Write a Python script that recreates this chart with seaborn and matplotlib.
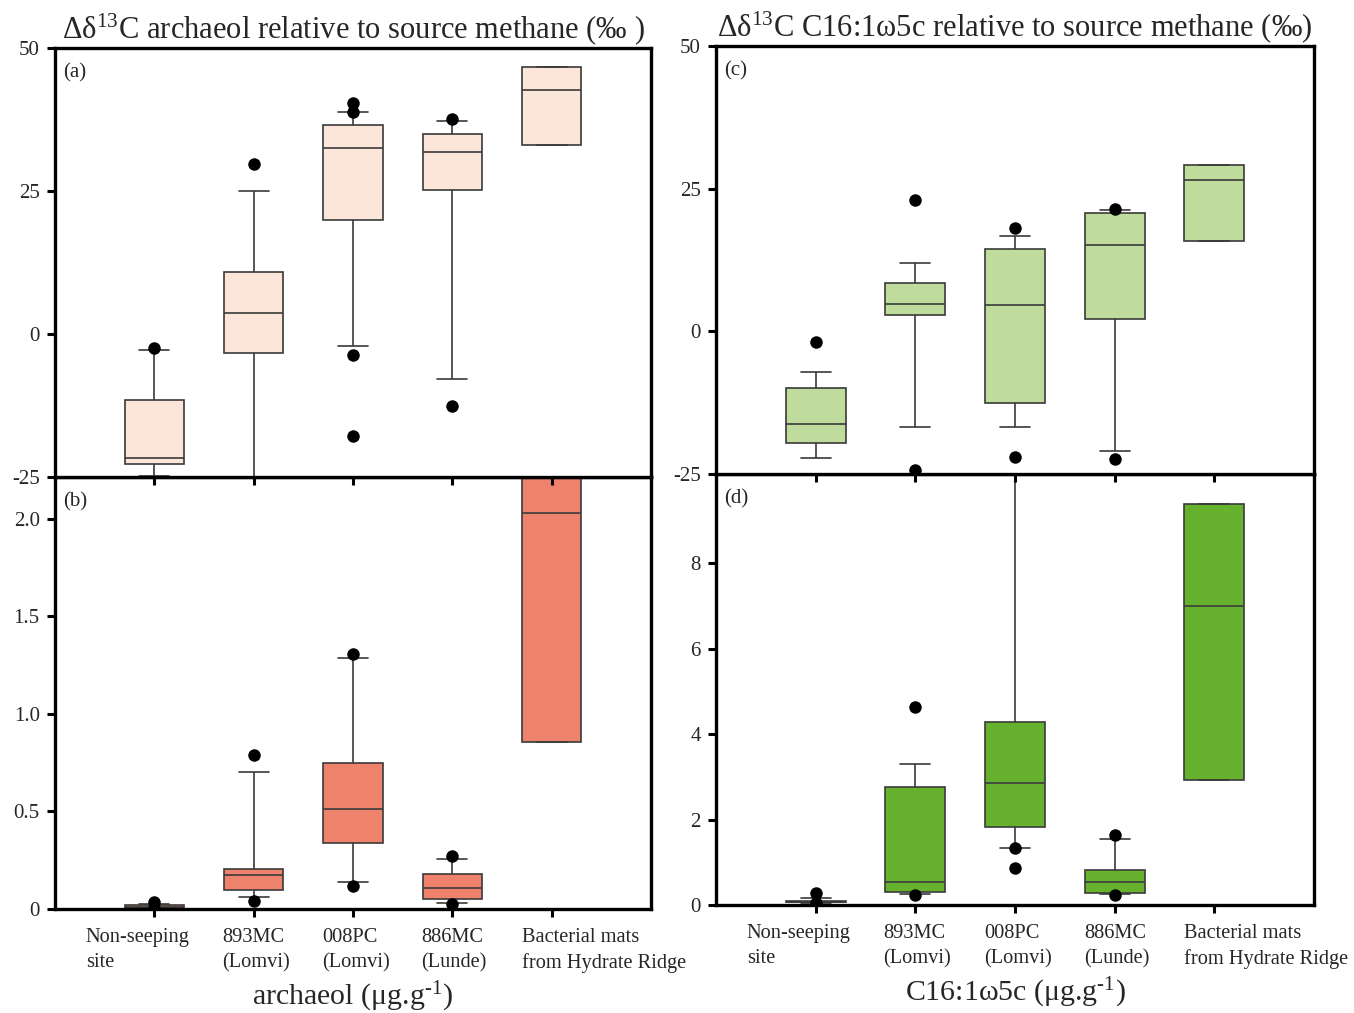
import numpy as np
import pandas as pd
import matplotlib
matplotlib.use("Agg")
import matplotlib.pyplot as plt
import seaborn as sns

# ---------------- data ----------------
categories = ["Non-seeping site", "893MC (Lomvi)", "008PC (Lomvi)", "886MC (Lunde)",
              "Bacterial mats from Hydrate Ridge"]
tick_texts = ["Non-seeping\nsite", "893MC\n(Lomvi)", "008PC\n(Lomvi)", "886MC\n(Lunde)",
              "Bacterial mats\nfrom Hydrate Ridge"]

# (a) d13C archaeol relative to source methane
a_lo = [-24.8, -35.0, -2.1, -7.8, 33.0]
a_q1 = [-22.7, -3.4, 19.9, 25.2, 33.0]
a_med = [-21.7, 3.6, 32.6, 31.9, 42.7]
a_q3 = [-11.5, 10.9, 36.6, 35.0, 46.7]
a_hi = [-2.8, 25.0, 38.8, 37.2, 46.7]
a_fliers = [[-2.5], [29.7], [40.3, 38.8, -3.7, -17.8], [37.5, -12.5], []]

# (b) archaeol concentration
b_lo = [0.004, 0.060, 0.139, 0.033, 0.857]
b_q1 = [0.007, 0.098, 0.339, 0.053, 0.857]
b_med = [0.012, 0.173, 0.515, 0.108, 2.03]
b_q3 = [0.019, 0.205, 0.748, 0.182, 2.45]
b_hi = [0.028, 0.703, 1.287, 0.254, 2.45]
b_fliers = [[0.035, 0.003], [0.79, 0.04], [1.309, 0.118], [0.274, 0.028], []]

# (c) d13C C16:1w5c relative to source methane
c_lo = [-22.2, -16.8, -16.8, -21.0, 15.9]
c_q1 = [-19.6, 2.8, -12.6, 2.2, 15.9]
c_med = [-16.3, 4.8, 4.7, 15.2, 26.6]
c_q3 = [-10.0, 8.4, 14.5, 20.8, 29.1]
c_hi = [-7.2, 12.0, 16.7, 21.3, 29.1]
c_fliers = [[-1.9], [23.0, -24.3], [18.1, -22.1], [21.5, -22.4], []]

# (d) C16:1w5c concentration
d_lo = [0.04, 0.26, 1.33, 0.26, 2.93]
d_q1 = [0.06, 0.30, 1.83, 0.28, 2.93]
d_med = [0.08, 0.55, 2.86, 0.53, 6.99]
d_q3 = [0.10, 2.76, 4.29, 0.81, 9.38]
d_hi = [0.17, 3.30, 11.0, 1.54, 9.38]
d_fliers = [[0.27, 0.04], [4.64, 0.23], [1.33, 0.86], [1.64, 0.23], []]

# ---------------- style ----------------
sns.set_theme(style="white")
plt.rcParams["font.family"] = ["Liberation Serif", "DejaVu Serif"]
plt.rcParams["mathtext.fontset"] = "custom"
plt.rcParams["mathtext.rm"] = "Liberation Serif"
plt.rcParams["mathtext.it"] = "Liberation Serif:italic"
plt.rcParams["mathtext.bf"] = "Liberation Serif:bold"

W, H = 1354, 1013
fig = plt.figure(figsize=(W / 100, H / 100), dpi=100)


def frac(x0, x1, ytop, ybot):
    return [x0 / W, 1 - ybot / H, (x1 - x0) / W, (ybot - ytop) / H]


def box_frame(lo, q1, med, q3, hi):
    rows = []
    for cat, l, a, m, b, h in zip(categories, lo, q1, med, q3, hi):
        for v in (l, a, m, b, h):
            rows.append((cat, v))
    return pd.DataFrame(rows, columns=["cat", "val"])


def flier_frame(fl):
    rows = [(cat, v) for cat, vals in zip(categories, fl) for v in vals]
    return pd.DataFrame(rows, columns=["cat", "val"])


def draw(ax, lo, q1, med, q3, hi, fl, color):
    sns.boxplot(data=box_frame(lo, q1, med, q3, hi), x="cat", y="val", order=categories,
                color=color, saturation=1, width=0.6, whis=(0, 100), linewidth=1.2,
                linecolor="#3a3a3a", fliersize=0, ax=ax)
    sns.stripplot(data=flier_frame(fl), x="cat", y="val", order=categories, jitter=False,
                  color="black", size=9, linewidth=0, ax=ax, zorder=5)
    ax.set_xlabel("")
    ax.set_ylabel("")


def frame(ax):
    for s in ax.spines.values():
        s.set_visible(True)
        s.set_color("black")
        s.set_linewidth(2.4)
    ax.tick_params(axis="both", which="both", direction="out", length=6, width=2.2,
                   color="black", labelsize=15, pad=5)
    ax.tick_params(axis="x", bottom=True, top=False)
    ax.tick_params(axis="y", left=True, right=False)


panels = [
    (frac(55, 651, 477, 909), (b_lo, b_q1, b_med, b_q3, b_hi, b_fliers), "#EF826C",
     (0, 2.215), [0, 0.5, 1.0, 1.5, 2.0], ["0", "0.5", "1.0", "1.5", "2.0"], "(b)"),
    (frac(55, 651, 48, 477), (a_lo, a_q1, a_med, a_q3, a_hi, a_fliers), "#FCE5D9",
     (-25, 50), [-25, 0, 25, 50], ["-25", "0", "25", "50"], "(a)"),
    (frac(716, 1314, 474, 905), (d_lo, d_q1, d_med, d_q3, d_hi, d_fliers), "#66B22F",
     (0, 10.09), [0, 2, 4, 6, 8], ["0", "2", "4", "6", "8"], "(d)"),
    (frac(716, 1314, 46, 474), (c_lo, c_q1, c_med, c_q3, c_hi, c_fliers), "#BFDC9D",
     (-25, 50), [-25, 0, 25, 50], ["-25", "0", "25", "50"], "(c)"),
]

axes = {}
for rect, dat, col, ylim, yt, ytl, lab in panels:
    ax = fig.add_axes(rect)
    draw(ax, *dat, col)
    ax.set_ylim(*ylim)
    ax.set_xlim(-1.0, 5.0)
    ax.set_yticks(yt)
    ax.set_yticklabels(ytl)
    ax.set_xticks(range(len(categories)))
    ax.set_xticklabels([])
    frame(ax)
    ax.text(0.013, 0.965, lab, transform=ax.transAxes, ha="left", va="top", fontsize=15)
    axes[lab] = ax

# titles
axes["(a)"].set_title("Δδ$^{13}$C archaeol relative to source methane (‰ )",
                      fontsize=22, pad=7)
axes["(c)"].set_title("Δδ$^{13}$C C16:1ω5c relative to source methane (‰)",
                      fontsize=22, pad=7)

# category labels (left-aligned two-line blocks under the ticks)
label_shift = [-0.69, -0.32, -0.31, -0.31, -0.30]
for key in ["(b)", "(d)"]:
    ax = axes[key]
    for i, (txt, sh) in enumerate(zip(tick_texts, label_shift)):
        ax.annotate(txt, xy=(i + sh, 0), xycoords=("data", "axes fraction"),
                    xytext=(0, -14), textcoords="offset points", ha="left", va="top",
                    fontsize=14.7, linespacing=1.38, annotation_clip=False)

axes["(b)"].set_xlabel("archaeol (μg.g$^{\\text{-1}}$)", fontsize=21.5, labelpad=40)
axes["(d)"].set_xlabel("C16:1ω5c (μg.g$^{\\text{-1}}$)", fontsize=21.5, labelpad=40)

fig.savefig("out.png", dpi=100, facecolor="white")
